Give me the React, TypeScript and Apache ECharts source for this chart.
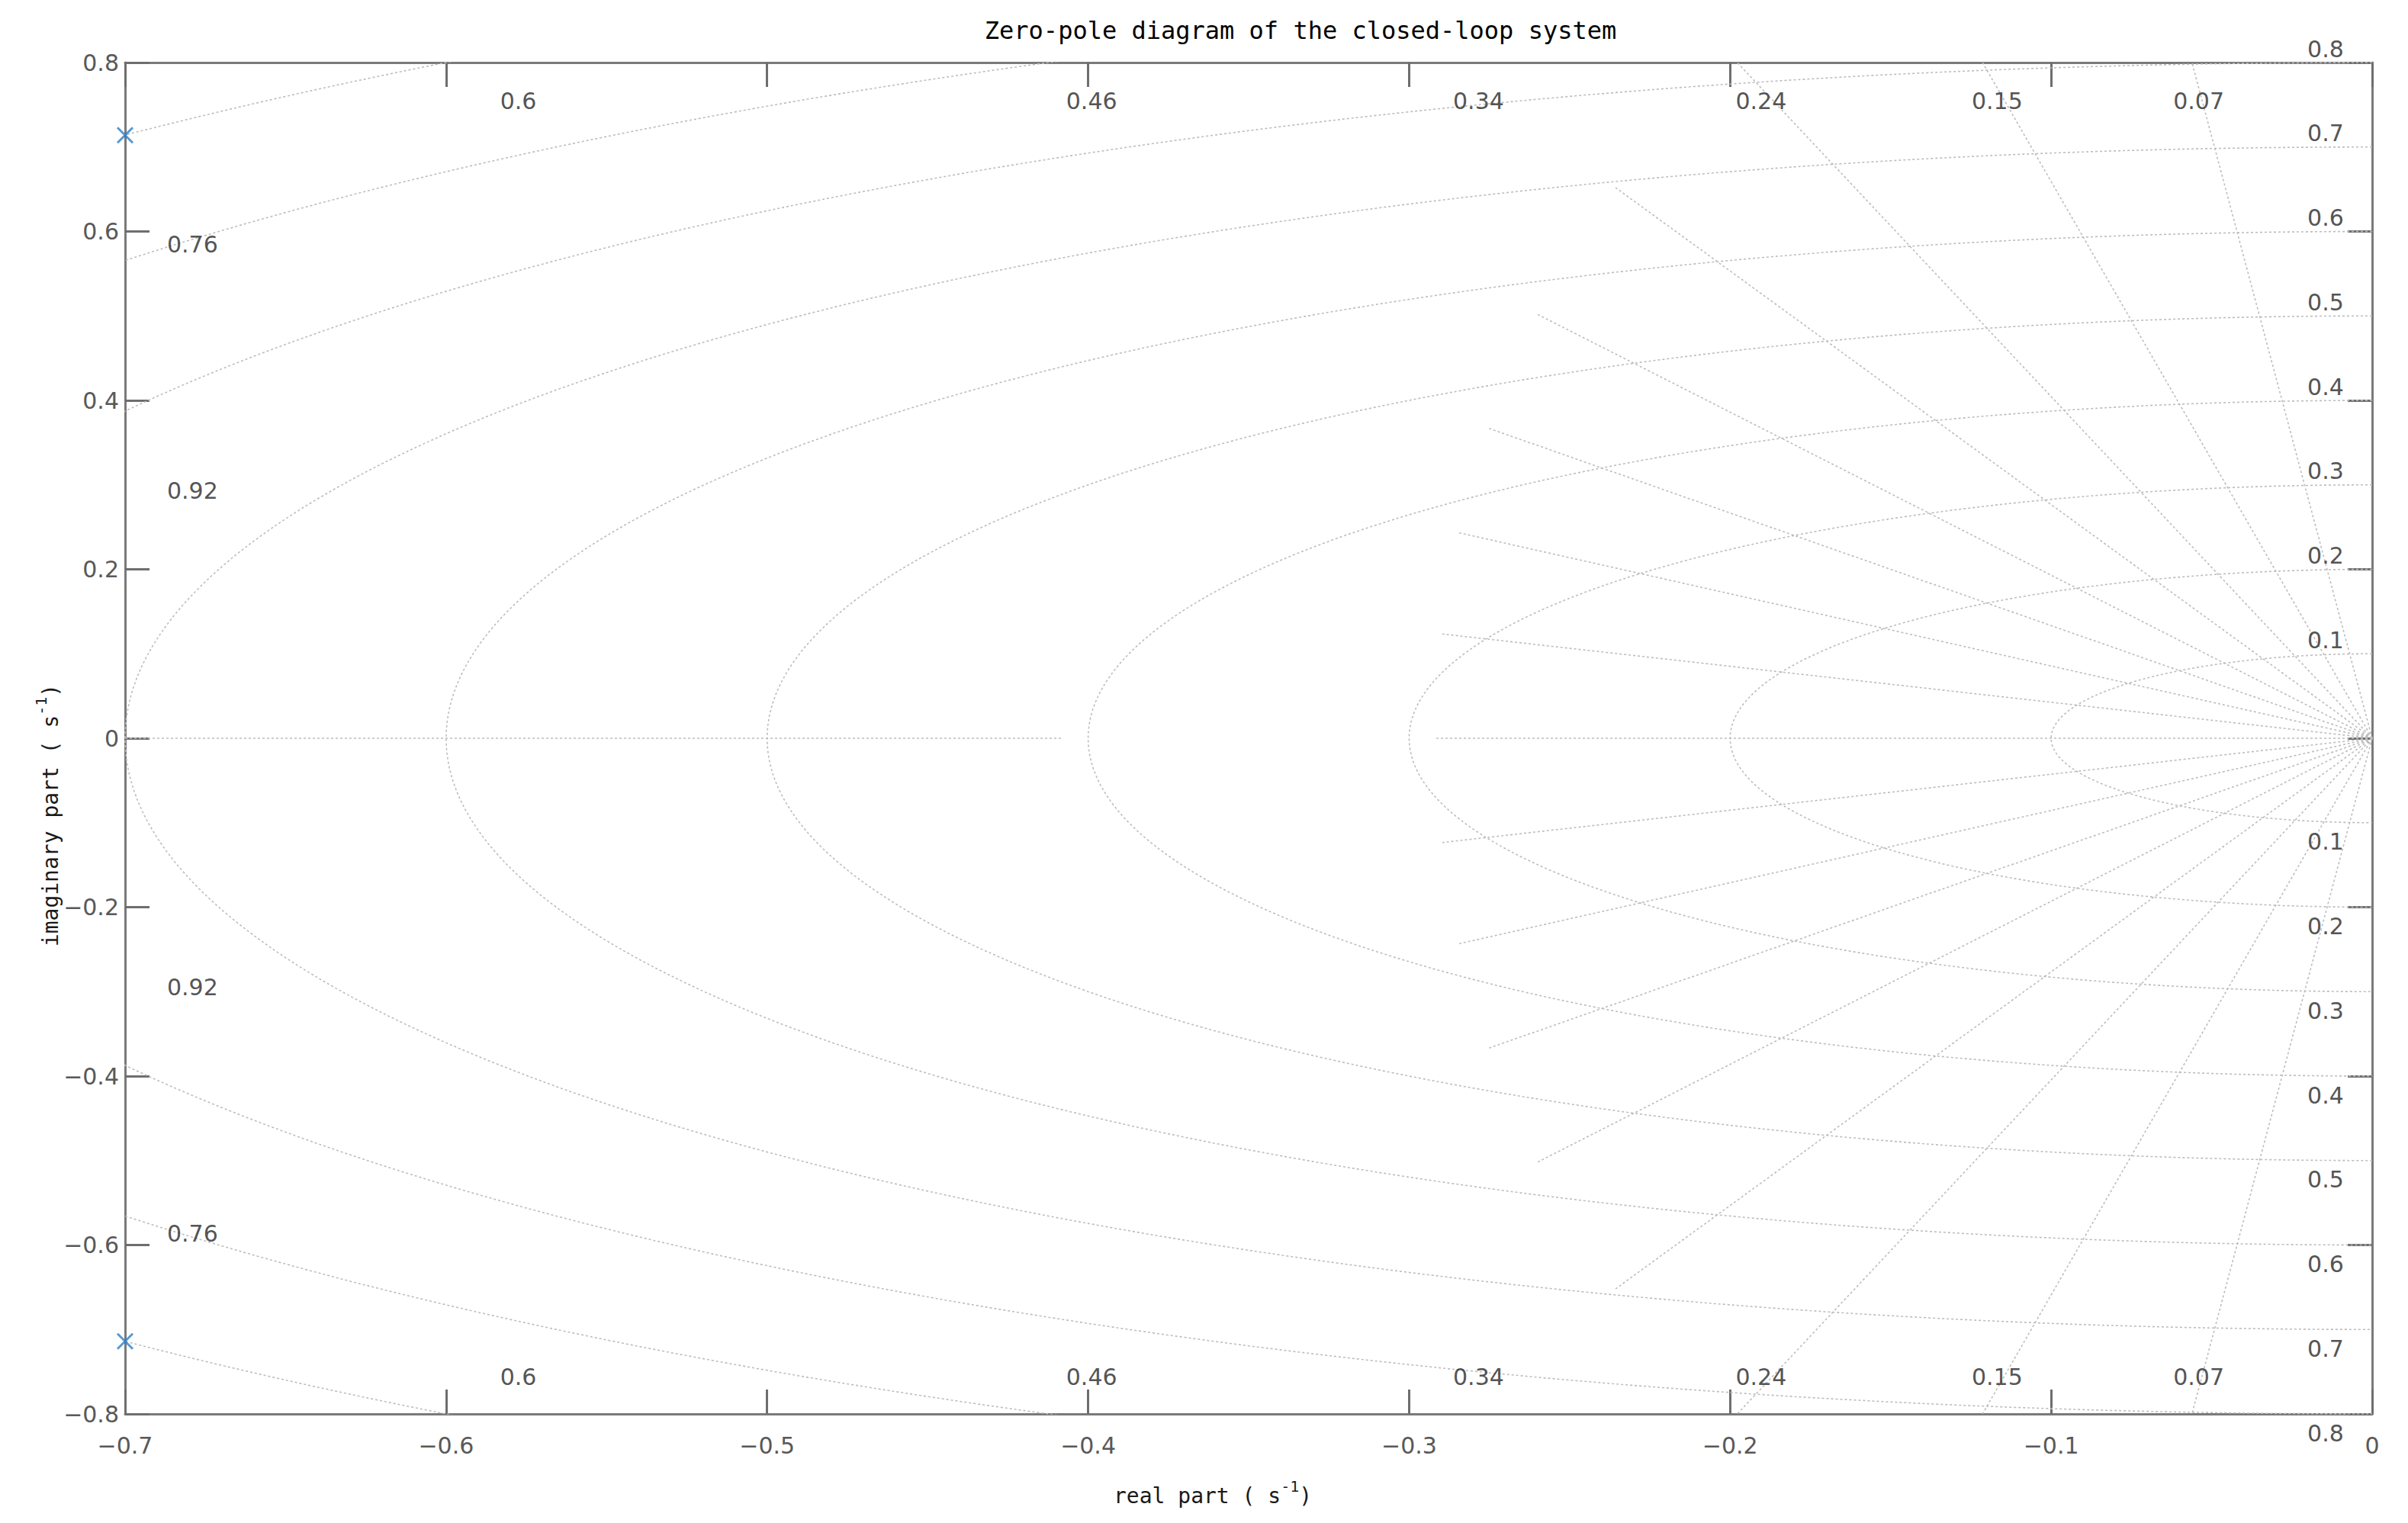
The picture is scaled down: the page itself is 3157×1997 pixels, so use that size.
import React, { useEffect, useRef } from "react";
import * as echarts from "echarts";

// ---- data ----
const titleText = "Zero-pole diagram of the closed-loop system";
const xRange = [-0.7, 0];
const yRange = [-0.8, 0.8];
const xInterval = 0.1;
const yInterval = 0.2;
const dampingRatios = [0.07, 0.15, 0.24, 0.34, 0.46, 0.6, 0.76, 0.92];
const topLabelRatios = [0.07, 0.15, 0.24, 0.34, 0.46, 0.6];
const sideLabelRatios = [0.76, 0.92];
const naturalFreqs = [0.1, 0.2, 0.3, 0.4, 0.5, 0.6, 0.7, 0.8, 0.9, 1.0];
const freqLabels = [0.1, 0.2, 0.3, 0.4, 0.5, 0.6, 0.7, 0.8];
const poleReal = [-0.7, -0.7];
const poleImag = [0.714, -0.714];
const rayReachReal = 0.2915; // where the damping rays stop on the real axis
const realAxisStub = [-0.7, -0.408];

// ---- layout ----
const W = 3157;
const H = 1997;
const GRID = { left: 164, top: 82, width: 2946, height: 1772 };

const slope = (z: number) => Math.sqrt(1 - z * z) / z;
const fmt = (v: number) => {
  const r = Math.round(v * 10) / 10;
  if (r === 0) return "0";
  return (r < 0 ? "\u2212" : "") + Math.abs(r).toString();
};

const gridLine = {
  type: "line" as const,
  symbol: "none",
  silent: true,
  clip: true,
  xAxisIndex: 0,
  yAxisIndex: 0,
  lineStyle: { color: "#bdbdbd", width: 1.6, type: [3, 3] as any },
  z: 1,
};

export default function App() {
  const ref = useRef<HTMLDivElement>(null);
  useEffect(() => {
    if (!ref.current) return;
    const chart = echarts.init(ref.current, undefined, { renderer: "svg" });

    const sx = GRID.width / (xRange[1] - xRange[0]);
    const sy = GRID.height / (yRange[1] - yRange[0]);
    const ax = rayReachReal;
    const by = rayReachReal * (sx / sy);

    const circleSeries = naturalFreqs.map((wn) => ({
      ...gridLine,
      data: Array.from({ length: 181 }, (_, i) => {
        const t = ((90 + i) * Math.PI) / 180;
        return [wn * Math.cos(t), wn * Math.sin(t)];
      }),
    }));

    const rayEnd = (z: number, sign: number) => {
      const s = Math.sqrt(Math.max(0, 1 - z * z));
      let r = 1 / Math.sqrt((z / ax) ** 2 + (s / by) ** 2);
      if (s > 0) r = Math.min(r, yRange[1] / s);
      return [-r * z, sign * r * s];
    };
    const raySeries: any[] = [];
    dampingRatios.forEach((z) => {
      raySeries.push({ ...gridLine, data: [[0, 0], rayEnd(z, 1)] });
      raySeries.push({ ...gridLine, data: [[0, 0], rayEnd(z, -1)] });
    });
    raySeries.push({ ...gridLine, data: [[0, 0], rayEnd(1, 1)] });
    raySeries.push({ ...gridLine, data: [[realAxisStub[0], 0], [realAxisStub[1], 0]] });

    const labelStyle = { fontSize: 30, color: "#262626", fontFamily: "DejaVu Sans" };
    const textSeries = (data: any[], offset: number[]) => ({
      type: "scatter" as const,
      symbolSize: 1,
      silent: true,
      clip: false,
      itemStyle: { color: "transparent" },
      label: { show: true, position: "inside", formatter: "{b}", offset, ...labelStyle },
      data,
      z: 5,
    });

    const topLabels = topLabelRatios.map((z) => ({ name: String(z), value: [-0.77 / slope(z), 0.754] }));
    const bottomLabels = topLabelRatios.map((z) => ({ name: String(z), value: [-0.77 / slope(z), -0.756] }));
    const sideUp = sideLabelRatios.map((z) => ({ name: String(z), value: [-0.679, 0.679 * slope(z)] }));
    const sideDown = sideLabelRatios.map((z) => ({ name: String(z), value: [-0.679, -0.679 * slope(z)] }));
    const freqUp = freqLabels.map((w) => ({ name: String(w), value: [-0.0145, w] }));
    const freqDown = freqLabels.map((w) => ({ name: String(w), value: [-0.0145, -w] }));

    const axisLine = { show: true, onZero: false, lineStyle: { color: "#7a7a7a", width: 3 } };
    const axisTick = { show: true, inside: true, length: 32, lineStyle: { color: "#6e6e6e", width: 3 } };
    const tickLabel = { color: "#595959", fontSize: 30, fontFamily: "DejaVu Sans", formatter: fmt, showMinLabel: true, showMaxLabel: true };

    const option: any = {
      animation: false,
      backgroundColor: "#ffffff",
      grid: { ...GRID, containLabel: false },
      xAxis: [
        {
          type: "value", position: "bottom", min: xRange[0], max: xRange[1], interval: xInterval,
          axisLine, axisTick, splitLine: { show: false },
          axisLabel: { ...tickLabel, margin: 26 },
        },
        {
          type: "value", position: "top", min: xRange[0], max: xRange[1], interval: xInterval,
          axisLine, axisTick, splitLine: { show: false }, axisLabel: { show: false },
        },
      ],
      yAxis: [
        {
          type: "value", position: "left", min: yRange[0], max: yRange[1], interval: yInterval,
          axisLine, axisTick, splitLine: { show: false },
          axisLabel: { ...tickLabel, margin: 8 },
        },
        {
          type: "value", position: "right", min: yRange[0], max: yRange[1], interval: yInterval,
          axisLine, axisTick, splitLine: { show: false }, axisLabel: { show: false },
        },
      ],
      series: [
        ...circleSeries,
        ...raySeries,
        textSeries(topLabels, [0, 0]),
        textSeries(bottomLabels, [0, 0]),
        textSeries(sideUp, [0, -4]),
        textSeries(sideDown, [0, 6]),
        textSeries(freqUp, [0, -18]),
        textSeries(freqDown, [0, 25]),
        {
          type: "scatter",
          name: "poles",
          clip: false,
          symbol: "path://M0 0L10 10M10 0L0 10",
          symbolSize: 20,
          itemStyle: { color: "none", borderColor: "#2a7fc9", borderWidth: 3 },
          data: poleReal.map((re, i) => [re, poleImag[i]]),
          z: 10,
        },
      ],
      graphic: [
        {
          type: "text", x: 1705, y: 40,
          style: { text: titleText, fontFamily: "DejaVu Sans Mono", fontSize: 32, fill: "#000", align: "center", verticalAlign: "middle" },
        },
        {
          type: "text", x: 1460, y: 1957,
          style: {
            text: "{a|real part ( s}{b|-1}{a|)}",
            align: "left", verticalAlign: "middle",
            rich: {
              a: { fontFamily: "DejaVu Sans Mono", fontSize: 28, fill: "#1a1a1a", verticalAlign: "bottom" },
              b: { fontFamily: "DejaVu Sans Mono", fontSize: 20, fill: "#1a1a1a", verticalAlign: "bottom", padding: [0, 0, 16, 0] },
            },
          },
        },
        {
          type: "text", x: 62, y: 1069, rotation: Math.PI / 2,
          style: {
            text: "{a|imaginary part ( s}{b|-1}{a|)}",
            align: "center", verticalAlign: "middle",
            rich: {
              a: { fontFamily: "DejaVu Sans Mono", fontSize: 28, fill: "#1a1a1a", verticalAlign: "bottom" },
              b: { fontFamily: "DejaVu Sans Mono", fontSize: 20, fill: "#1a1a1a", verticalAlign: "bottom", padding: [0, 0, 16, 0] },
            },
          },
        },
      ],
    };
    chart.setOption(option);
    return () => chart.dispose();
  }, []);
  return <div ref={ref} style={{ position: "fixed", left: 0, top: 0, width: W, height: H, background: "#fff" }} />;
}
